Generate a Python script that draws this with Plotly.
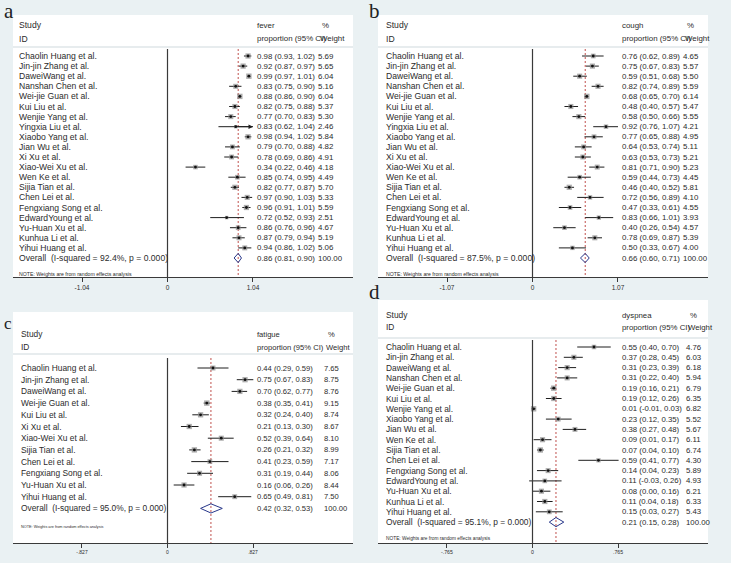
import math
import plotly.graph_objects as go

W, H = 731, 563

# ---------------- DATA ----------------
studies_a = ["Chaolin Huang et al.", "Jin-jin Zhang et al.", "DaweiWang et al.", "Nanshan Chen et al.",
             "Wei-jie Guan et al.", "Kui Liu et al.", "Wenjie Yang et al.", "Yingxia Liu et al.",
             "Xiaobo Yang et al.", "Jian Wu et al.", "Xi Xu et al.", "Xiao-Wei Xu et al.", "Wen Ke et al.",
             "Sijia Tian et al.", "Chen Lei et al.", "Fengxiang Song et al.", "EdwardYoung et al.",
             "Yu-Huan Xu et al.", "Kunhua Li et al.", "Yihui Huang et al."]
est_a = [0.98, 0.92, 0.99, 0.83, 0.88, 0.82, 0.77, 0.83, 0.98, 0.79, 0.78, 0.34, 0.85, 0.82, 0.97, 0.96, 0.72, 0.86, 0.87, 0.94]
lo_a = [0.93, 0.87, 0.97, 0.75, 0.86, 0.75, 0.70, 0.62, 0.94, 0.70, 0.69, 0.22, 0.74, 0.77, 0.90, 0.91, 0.52, 0.76, 0.79, 0.86]
hi_a = [1.02, 0.97, 1.01, 0.90, 0.90, 0.88, 0.83, 1.04, 1.02, 0.88, 0.86, 0.46, 0.95, 0.87, 1.03, 1.01, 0.93, 0.96, 0.94, 1.02]
w_a = [5.69, 5.65, 6.04, 5.16, 6.04, 5.37, 5.30, 2.46, 5.84, 4.82, 4.91, 4.18, 4.49, 5.70, 5.33, 5.59, 2.51, 4.67, 5.19, 5.06]
overall_a = [0.86, 0.81, 0.90]
isq_a = "92.4%"
arrows_a = ["Yingxia Liu et al."]

studies_b = studies_a
est_b = [0.76, 0.75, 0.59, 0.82, 0.68, 0.48, 0.58, 0.92, 0.77, 0.64, 0.63, 0.81, 0.59, 0.46, 0.72, 0.47, 0.83, 0.40, 0.78, 0.50]
lo_b = [0.62, 0.67, 0.51, 0.74, 0.65, 0.40, 0.50, 0.76, 0.65, 0.53, 0.53, 0.71, 0.44, 0.40, 0.56, 0.33, 0.66, 0.26, 0.69, 0.33]
hi_b = [0.89, 0.83, 0.68, 0.89, 0.70, 0.57, 0.66, 1.07, 0.88, 0.74, 0.73, 0.90, 0.73, 0.52, 0.89, 0.61, 1.01, 0.54, 0.87, 0.67]
w_b = [4.65, 5.57, 5.50, 5.59, 6.14, 5.47, 5.55, 4.21, 4.95, 5.11, 5.21, 5.23, 4.45, 5.81, 4.10, 4.55, 3.93, 4.57, 5.39, 4.00]
overall_b = [0.66, 0.60, 0.71]
isq_b = "87.5%"
arrows_b = []

studies_c = ["Chaolin Huang et al.", "Jin-jin Zhang et al.", "DaweiWang et al.", "Wei-jie Guan et al.",
             "Kui Liu et al.", "Xi Xu et al.", "Xiao-Wei Xu et al.", "Sijia Tian et al.", "Chen Lei et al.",
             "Fengxiang Song et al.", "Yu-Huan Xu et al.", "Yihui Huang et al."]
est_c = [0.44, 0.75, 0.70, 0.38, 0.32, 0.21, 0.52, 0.26, 0.41, 0.31, 0.16, 0.65]
lo_c = [0.29, 0.67, 0.62, 0.35, 0.24, 0.13, 0.39, 0.21, 0.23, 0.19, 0.06, 0.49]
hi_c = [0.59, 0.83, 0.77, 0.41, 0.40, 0.30, 0.64, 0.32, 0.59, 0.44, 0.26, 0.81]
w_c = [7.65, 8.75, 8.76, 9.15, 8.74, 8.67, 8.10, 8.99, 7.17, 8.06, 8.44, 7.50]
overall_c = [0.42, 0.32, 0.53]
isq_c = "95.0%"
arrows_c = []

studies_d = ["Chaolin Huang et al.", "Jin-jin Zhang et al.", "DaweiWang et al.", "Nanshan Chen et al.",
             "Wei-jie Guan et al.", "Kui Liu et al.", "Wenjie Yang et al.", "Xiaobo Yang et al.",
             "Jian Wu et al.", "Wen Ke et al.", "Sijia Tian et al.", "Chen Lei et al.",
             "Fengxiang Song et al.", "EdwardYoung et al.", "Yu-Huan Xu et al.", "Kunhua Li et al.",
             "Yihui Huang et al."]
est_d = [0.55, 0.37, 0.31, 0.31, 0.19, 0.19, 0.01, 0.23, 0.38, 0.09, 0.07, 0.59, 0.14, 0.11, 0.08, 0.11, 0.15]
lo_d = [0.40, 0.28, 0.23, 0.22, 0.16, 0.12, -0.01, 0.12, 0.27, 0.01, 0.04, 0.41, 0.04, -0.03, 0.00, 0.04, 0.03]
hi_d = [0.70, 0.45, 0.39, 0.40, 0.21, 0.26, 0.03, 0.35, 0.48, 0.17, 0.10, 0.77, 0.23, 0.26, 0.16, 0.18, 0.27]
w_d = [4.76, 6.03, 6.18, 5.94, 6.79, 6.35, 6.82, 5.52, 5.67, 6.11, 6.74, 4.30, 5.89, 4.93, 6.21, 6.33, 5.43]
overall_d = [0.21, 0.15, 0.28]
isq_d = "95.1%"
arrows_d = []

outcomes = ["fever", "cough", "fatigue", "dyspnea"]
panel_letters = ["a", "b", "c", "d"]
ticks_a = [-1.04, 0, 1.04]; ticktext_a = ["-1.04", "0", "1.04"]
ticks_b = [-1.07, 0, 1.07]; ticktext_b = ["-1.07", "0", "1.07"]
ticks_c = [-0.827, 0, 0.827]; ticktext_c = ["-.827", "0", ".827"]
ticks_d = [-0.765, 0, 0.765]; ticktext_d = ["-.765", "0", ".765"]

# ---------------- LAYOUT GEOMETRY (pixels) ----------------
geo = [
    dict(box=(13, 353, 15, 277), zero=167.5, ppu=82.2, row1=56, step=10.1, study=25, idy=39, sep=47,
         ltop=49, note=274, cs=20, cci=258, cw=318, lab=(3, 11, 21), fs=8.6, nums=7.9, tfs=6.5, nfs=5.2),
    dict(box=(378, 708, 15, 277), zero=532.5, ppu=79.9, row1=56, step=10.1, study=25, idy=39, sep=47,
         ltop=49, note=274, cs=387, cci=623, cw=683, lab=(368, 11, 21), fs=8.6, nums=7.9, tfs=6.5, nfs=5.2),
    dict(box=(13, 353, 312, 543), zero=167.5, ppu=103.4, row1=368, step=11.7, study=334, idy=347, sep=354,
         ltop=358, note=527, cs=22, cci=258, cw=324, lab=(3, 323, 17), fs=8.4, nums=7.6, tfs=5, nfs=3.8),
    dict(box=(378, 708, 300, 543), zero=532.5, ppu=111.8, row1=347, step=10.3, study=315, idy=327, sep=338,
         ltop=340, note=538, cs=387, cci=623, cw=686, lab=(368, 292, 21), fs=8.4, nums=7.8, tfs=5.2, nfs=4.8),
]

data = [
    (studies_a, est_a, lo_a, hi_a, w_a, overall_a, isq_a, arrows_a, ticks_a, ticktext_a),
    (studies_b, est_b, lo_b, hi_b, w_b, overall_b, isq_b, arrows_b, ticks_b, ticktext_b),
    (studies_c, est_c, lo_c, hi_c, w_c, overall_c, isq_c, arrows_c, ticks_c, ticktext_c),
    (studies_d, est_d, lo_d, hi_d, w_d, overall_d, isq_d, arrows_d, ticks_d, ticktext_d),
]

BG = "#eaf1f3"
TXT = "#2b2b2b"
FONT = "Liberation Sans, Arial, sans-serif"
NAVY = "#28378a"
RED = "#c0504d"


def fx(p):
    return p / W


def fy(p):
    return 1 - p / H


fig = go.Figure()
annotations = []
shapes = []
layout_axes = {}

for i, (g, d) in enumerate(zip(geo, data)):
    studies, est, lo, hi, w, ov, isq, arrows, tv, tt = d
    k = "" if i == 0 else str(i + 1)
    xa, ya = "x" + k, "y" + k
    L, R, T, B = g["box"]
    step, row1 = g["step"], g["row1"]

    def row_of(p):
        return 1 + (p - row1) / step

    xr = [(L - g["zero"]) / g["ppu"], (R - g["zero"]) / g["ppu"]]
    yr = [row_of(B), row_of(T)]
    layout_axes["xaxis" + k] = dict(
        domain=[fx(L), fx(R)], range=xr, anchor=ya, showgrid=False, zeroline=False,
        showline=True, linecolor="#3a3a3a", linewidth=1, ticks="outside", ticklen=4,
        tickcolor="#3a3a3a", tickwidth=1, tickvals=tv, ticktext=tt,
        tickfont=dict(size=g["tfs"], color=TXT, family=FONT), fixedrange=True)
    layout_axes["yaxis" + k] = dict(
        domain=[fy(B), fy(T)], range=yr, anchor=xa, visible=False, showgrid=False,
        zeroline=False, fixedrange=True)

    rows = list(range(1, len(studies) + 1))
    ov_row = len(studies) + 1
    wmax = max(w)
    sizes = [5.4 * math.sqrt(v / wmax) for v in w]

    # weighted grey boxes with CI lines
    fig.add_trace(go.Scatter(
        x=est, y=rows, xaxis=xa, yaxis=ya, mode="markers", hoverinfo="skip",
        marker=dict(symbol="square", size=sizes, color="#8a8a8a", line=dict(width=0)),
        error_x=dict(type="data", symmetric=False,
                     array=[h - e for h, e in zip(hi, est)],
                     arrayminus=[e - l for e, l in zip(est, lo)],
                     thickness=1, width=0, color="#1e1e1e"),
        showlegend=False))
    # point estimate dots
    fig.add_trace(go.Scatter(
        x=est, y=rows, xaxis=xa, yaxis=ya, mode="markers", hoverinfo="skip",
        marker=dict(symbol="circle", size=2.8, color="#111111"), showlegend=False))
    # overall diamond
    hh = 4.6 / step
    fig.add_trace(go.Scatter(
        x=[ov[1], ov[0], ov[2], ov[0], ov[1]],
        y=[ov_row, ov_row - hh, ov_row, ov_row + hh, ov_row],
        xaxis=xa, yaxis=ya, mode="lines", hoverinfo="skip",
        line=dict(color=NAVY, width=1), showlegend=False))

    # arrows for clipped CIs
    for s in arrows:
        j = studies.index(s)
        annotations.append(dict(
            x=hi[j], y=j + 1, ax=est[j], ay=j + 1, xref=xa, yref=ya, axref=xa, ayref=ya,
            showarrow=True, arrowhead=2, arrowsize=0.9, arrowwidth=1, arrowcolor="#1e1e1e", text=""))

    # null line and overall dashed line
    y_top = row_of(g["ltop"])
    shapes.append(dict(type="line", xref=xa, yref=ya, x0=0, x1=0, y0=y_top, y1=yr[0],
                       line=dict(color="#3a3a3a", width=1.2), layer="above"))
    shapes.append(dict(type="line", xref=xa, yref=ya, x0=ov[0], x1=ov[0], y0=y_top, y1=yr[0],
                       line=dict(color=RED, width=1, dash="2px,2px"), layer="below"))
    # header separator
    shapes.append(dict(type="line", xref="paper", yref="paper", x0=fx(L), x1=fx(R),
                       y0=fy(g["sep"]), y1=fy(g["sep"]), line=dict(color="#dfe6e9", width=1.5)))

    f = dict(size=g["fs"], color=TXT, family=FONT)
    fn = dict(size=g["nums"], color=TXT, family=FONT)

    def txt(x, y, s, yref="paper", font=f):
        annotations.append(dict(x=x, y=y, xref="paper", yref=yref, text=s, showarrow=False,
                                xanchor="left", yanchor="middle", font=font, borderpad=0))

    # headers
    txt(fx(g["cs"] - 2), fy(g["study"]), "Study")
    txt(fx(g["cs"] - 2), fy(g["idy"]), "ID")
    txt(fx(g["cci"] - 2), fy(g["study"]), outcomes[i], font=fn)
    txt(fx(g["cci"] - 2), fy(g["idy"]), "proportion (95% CI)", font=fn)
    txt(fx(g["cw"] + 3), fy(g["study"]), "%", font=fn)
    txt(fx(g["cw"] + 1), fy(g["idy"]), "Weight", font=fn)

    for j, s in enumerate(studies):
        r = j + 1
        txt(fx(g["cs"] - 2), r, s, yref=ya)
        txt(fx(g["cci"] - 2), r, f"{est[j]:.2f} ({lo[j]:.2f}, {hi[j]:.2f})", yref=ya, font=fn)
        txt(fx(g["cw"] - 1), r, f"{w[j]:.2f}", yref=ya, font=fn)
    txt(fx(g["cs"] - 2), ov_row, f"Overall  (I-squared = {isq}, p = 0.000)", yref=ya)
    txt(fx(g["cci"] - 2), ov_row, f"{ov[0]:.2f} ({ov[1]:.2f}, {ov[2]:.2f})", yref=ya, font=fn)
    txt(fx(g["cw"] - 1), ov_row, "100.00", yref=ya, font=fn)
    txt(fx(g["cs"] - 2), fy(g["note"]), "NOTE: Weights are from random effects analysis",
        font=dict(size=g["nfs"], color=TXT, family=FONT))

    lx, ly, lfs = g["lab"]
    annotations.append(dict(x=fx(lx), y=fy(ly), xref="paper", yref="paper", text=panel_letters[i],
                            showarrow=False, xanchor="left", yanchor="middle", borderpad=0,
                            font=dict(size=lfs, color="#222", family="Liberation Serif, Times New Roman, serif")))

fig.update_layout(
    width=W, height=H, margin=dict(l=0, r=0, t=0, b=0),
    paper_bgcolor=BG, plot_bgcolor="white", showlegend=False,
    annotations=annotations, shapes=shapes, **layout_axes)

fig.write_html("out.html", config={"displayModeBar": False},
               post_script="document.body.style.margin='0';document.body.style.overflow='hidden';")
